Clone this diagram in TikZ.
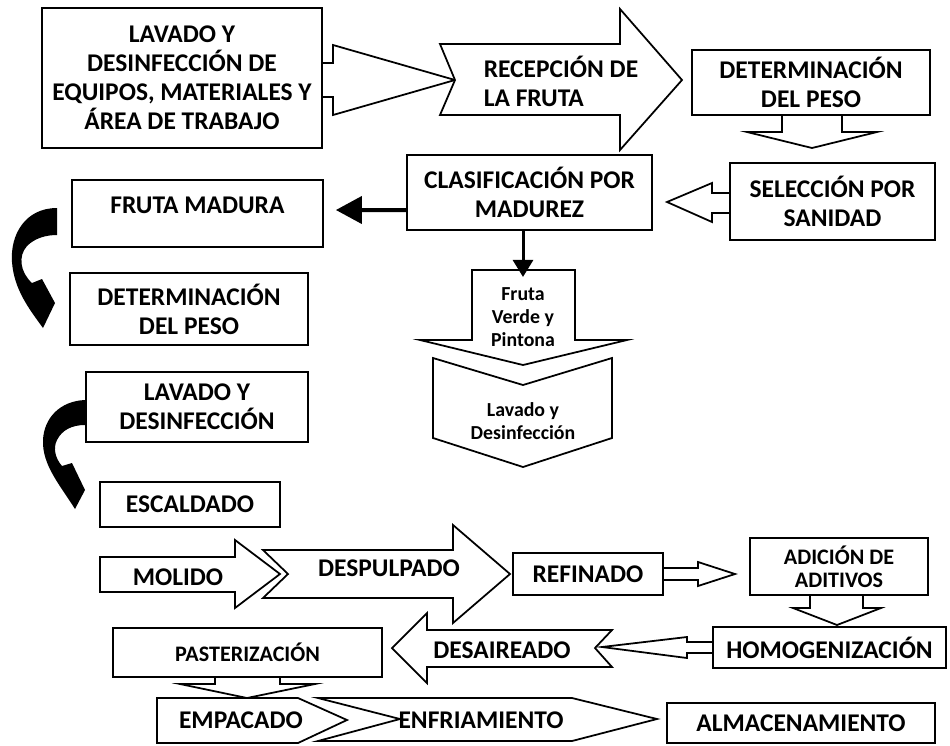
\documentclass[tikz,border=0pt]{standalone}
\usepackage{fontspec}
\setmainfont{Carlito}
\usetikzlibrary{arrows.meta}
\newcommand\pxu{0.02cm}
\newcommand\fbig{\fontsize{14.5}{16.5}\selectfont\bfseries}
\newcommand\fsmall{\fontsize{12.6}{13.2}\selectfont\bfseries}
\newcommand\flow{\fontsize{11.3}{13.2}\selectfont\bfseries}
\tikzset{
  box/.style={draw=black, line width=1pt, fill=white, inner sep=0pt, align=center, font=\fbig},
  blk/.style={draw=black, line width=1pt, fill=white, line join=miter},
  txt/.style={inner sep=0pt, align=center, font=\fbig},
  darr/.style={line width=0.08cm, -{Triangle[length=0.52cm,width=0.54cm]}},
  sarr/.style={line width=0.06cm, -{Triangle[length=0.34cm,width=0.4cm]}},
}
\begin{document}
\begin{tikzpicture}[x=0.02cm,y=-0.02cm]
\useasboundingbox (0,0) rectangle (950,745);
\fill[white] (0,0) rectangle (950,745);

% ---------- block arrows (shapes) ----------
\draw[blk] (322,63) -- (333,63) -- (333,45) -- (455,80) -- (333,115) -- (333,97) -- (322,97);
\draw[blk] (440,44) -- (620,44) -- (620,9) -- (682,80) -- (620,150) -- (620,115) -- (440,115) -- (455,80) -- cycle;
\draw[blk] (782,115) -- (782,132) -- (747,132) -- (812,148) -- (877,132) -- (842,132) -- (842,115);
\draw[blk] (730,193) -- (712,193) -- (712,183) -- (667,202) -- (712,222) -- (712,213) -- (730,213);
\draw[blk] (472,270) -- (575,270) -- (575,340) -- (627,340) -- (523,365) -- (420,340) -- (472,340) -- cycle;
\draw[blk] (433,358) -- (523,385) -- (612,358) -- (612,438) -- (523,467) -- (433,438) -- cycle;
\draw[blk] (100,557) -- (235,557) -- (235,540) -- (280,574) -- (235,608) -- (235,592) -- (100,592) -- cycle;
\draw[blk] (263,550) -- (453,550) -- (453,525) -- (510,574) -- (453,623) -- (453,598) -- (263,598) -- (288,574) -- cycle;
\draw[blk] (663,568) -- (698,568) -- (698,562) -- (735,574) -- (698,586) -- (698,580) -- (663,580);
\draw[blk] (810,595) -- (810,608) -- (793,608) -- (837,625) -- (881,608) -- (863,608) -- (863,595);
\draw[blk] (713,642) -- (687,642) -- (687,637) -- (602,647) -- (687,658) -- (687,653) -- (713,653);
\draw[blk] (612,630) -- (427,630) -- (427,613) -- (392,648) -- (427,683) -- (427,667) -- (612,667) -- (595,648) -- cycle;
\draw[blk] (215,677) -- (215,684) -- (180,684) -- (247,698) -- (315,684) -- (280,684) -- (280,677);
\draw[blk] (157,698) -- (298,698) -- (347,720) -- (298,743) -- (157,743) -- cycle;
\draw[blk] (318,698) -- (572,698) -- (657,719) -- (572,741) -- (318,741) -- (400,719) -- cycle;

% ---------- boxes ----------
\node[box, minimum width=280*\pxu, minimum height=140*\pxu] (A) at (182,78)
  {LAVADO Y\\DESINFECCIÓN DE\\EQUIPOS, MATERIALES Y\\ÁREA DE TRABAJO};
\node[box, minimum width=238*\pxu, minimum height=65*\pxu] (det) at (811,82.5)
  {DETERMINACIÓN\\DEL PESO};
\node[box, minimum width=205*\pxu, minimum height=77*\pxu] (sel) at (832.5,201.5)
  {SELECCIÓN POR\\SANIDAD};
\node[box, minimum width=245*\pxu, minimum height=75*\pxu] (clas) at (529.5,192.5)
  {CLASIFICACIÓN POR\\MADUREZ};
\node[box, minimum width=251*\pxu, minimum height=67*\pxu] (fm) at (197.5,213.5)
  {\raisebox{0pt}[0pt][0pt]{FRUTA MADURA}};
\node[box, minimum width=238*\pxu, minimum height=72*\pxu] (det2) at (189,309)
  {DETERMINACIÓN\\DEL PESO};
\node[box, minimum width=222*\pxu, minimum height=70*\pxu] (lav2) at (197,407)
  {LAVADO Y\\DESINFECCIÓN};
\node[box, minimum width=180*\pxu, minimum height=45*\pxu] (esc) at (190,504.5)
  {ESCALDADO};
\node[box, minimum width=150*\pxu, minimum height=42*\pxu] (ref) at (588,574)
  {REFINADO};
\node[box, minimum width=178*\pxu, minimum height=57*\pxu, font=\fsmall] (adi) at (839,566.5)
  {ADICIÓN DE\\ADITIVOS};
\node[box, minimum width=233*\pxu, minimum height=41*\pxu] (hom) at (829.5,647.5)
  {HOMOGENIZACIÓN};
\node[box, minimum width=269*\pxu, minimum height=49*\pxu, font=\fsmall] (past) at (247.5,652.5)
  {PASTERIZACIÓN};
\node[box, minimum width=268*\pxu, minimum height=40*\pxu] (alm) at (801,723)
  {ALMACENAMIENTO};

% ---------- texts on block arrows ----------
\node[txt, align=left] (recep) at (561,81) {RECEPCIÓN DE\\LA FRUTA};
\node[txt, font=\flow] (verde) at (523,317) {Fruta\\Verde y\\Pintona};
\node[txt, font=\flow] (lavf) at (523,421) {Lavado y\\Desinfección};
\node[txt] (mol) at (178,577) {MOLIDO};
\node[txt] (desp) at (389,568) {DESPULPADO};
\node[txt] (desa) at (502,650) {DESAIREADO};
\node[txt] (emp) at (241,720) {EMPACADO};
\node[txt] (enf) at (481,720) {ENFRIAMIENTO};

% ---------- black connectors ----------
\draw[darr] ([yshift=-0.35cm]clas.west) -- ([xshift=0.24cm,yshift=0.07cm]fm.east);
\draw[sarr] (clas.south -| 523,0) -- ([yshift=0.2cm]verde.north -| 523,0);

% curved arrows
\fill[black] (57,208) .. controls (25,208) and (10,235) .. (12,262)
  .. controls (14,290) and (30,310) .. (43,328) -- (55,303) -- (42,279) -- (32,283)
  .. controls (20,272) and (18,256) .. (27,246)
  .. controls (35,238) and (46,235) .. (57,235) -- cycle;
\fill[black] (85,400) .. controls (60,401) and (44,418) .. (43,440)
  .. controls (42,465) and (60,485) .. (75,509) -- (85,490) -- (72,463) -- (62,466)
  .. controls (55,458) and (53,448) .. (57,440)
  .. controls (62,430) and (72,425) .. (85,425) -- cycle;
\end{tikzpicture}
\end{document}
